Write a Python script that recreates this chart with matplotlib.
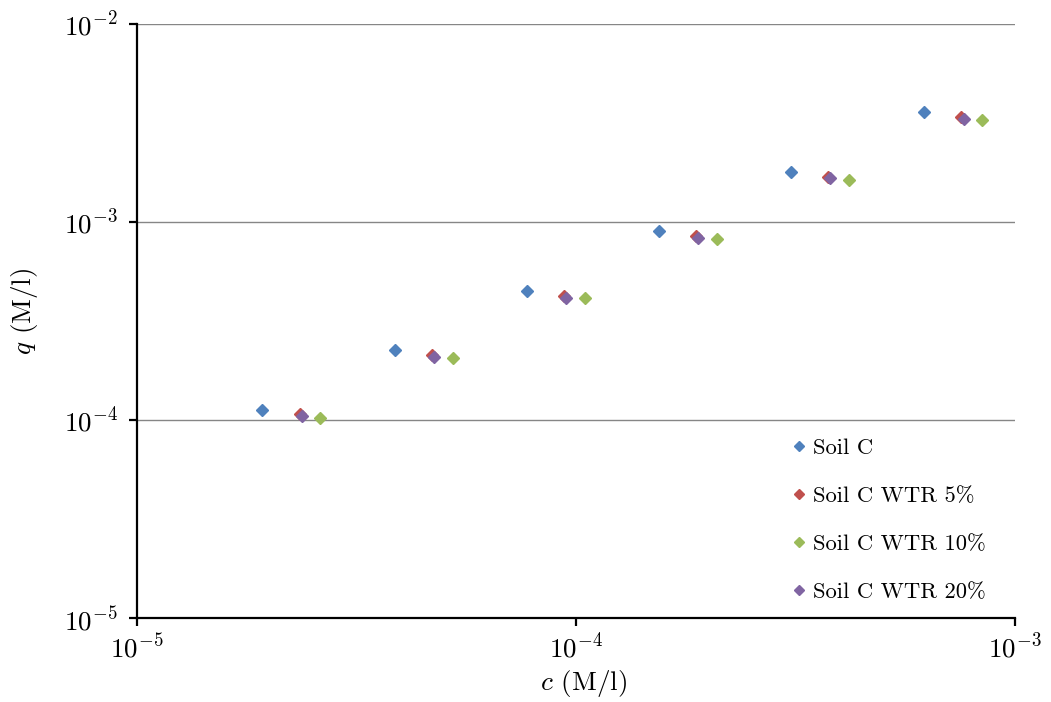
import numpy as np
import matplotlib
matplotlib.use('Agg')
import matplotlib.pyplot as plt

plt.rcParams['font.family'] = ['cmr10', 'DejaVu Serif']
plt.rcParams['mathtext.fontset'] = 'cm'
plt.rcParams['axes.formatter.use_mathtext'] = True

# concentration c (M/l) and sorbed q (M/l)
c_soil = [1.93e-5, 3.87e-5, 7.73e-5, 1.546e-4, 3.09e-4, 6.21e-4]
q_soil = [1.12e-4, 2.26e-4, 4.48e-4, 9.0e-4, 1.79e-3, 3.59e-3]

c_wtr5 = [2.35e-5, 4.70e-5, 9.39e-5, 1.877e-4, 3.75e-4, 7.53e-4]
q_wtr5 = [1.07e-4, 2.13e-4, 4.23e-4, 8.50e-4, 1.69e-3, 3.39e-3]

c_wtr10 = [2.61e-5, 5.25e-5, 1.048e-4, 2.095e-4, 4.19e-4, 8.41e-4]
q_wtr10 = [1.02e-4, 2.06e-4, 4.13e-4, 8.21e-4, 1.63e-3, 3.27e-3]

c_wtr20 = [2.38e-5, 4.75e-5, 9.49e-5, 1.896e-4, 3.79e-4, 7.65e-4]
q_wtr20 = [1.05e-4, 2.08e-4, 4.13e-4, 8.30e-4, 1.67e-3, 3.31e-3]

labels = ['Soil C', 'Soil C WTR 5%', 'Soil C WTR 10%', 'Soil C WTR 20%']
colors = ['#4F81BD', '#C0504D', '#9BBB59', '#8064A2']

fig = plt.figure(figsize=(10.51, 7.02), dpi=100)
ax = fig.add_axes([0.1304, 0.1197, 0.8353, 0.8461])

series = [(c_soil, q_soil), (c_wtr5, q_wtr5), (c_wtr10, q_wtr10), (c_wtr20, q_wtr20)]
for (c, q), lab, col in zip(series, labels, colors):
    ax.plot(c, q, linestyle='none', marker='D', ms=6.5, color=col, label=lab, zorder=3)

ax.set_xscale('log')
ax.set_yscale('log')
ax.set_xlim(1e-5, 1e-3)
ax.set_ylim(1e-5, 1e-2)
ax.minorticks_off()
ax.yaxis.grid(True, color='#868686', linewidth=1)
ax.set_axisbelow(True)

for s in ['top', 'right']:
    ax.spines[s].set_visible(False)
for s in ['left', 'bottom']:
    ax.spines[s].set_linewidth(1.6)
ax.tick_params(which='major', direction='out', length=6, width=1.6, labelsize=19.5)
ax.tick_params(axis='y', pad=8)
ax.tick_params(axis='x', pad=5)

ax.set_xlabel('$c$ (M/l)', fontsize=19.5)
ax.set_ylabel('$q$ (M/l)', fontsize=19.5)
ax.yaxis.set_label_coords(-0.111, 0.517)
ax.xaxis.set_label_coords(0.5085, -0.085)

ax.legend(loc='upper left', bbox_to_anchor=(0.734, 0.405), bbox_transform=fig.transFigure,
          frameon=False, fontsize=16.3, labelspacing=1.25, handlelength=0.6,
          handletextpad=0.35, markerscale=0.8)

fig.savefig('out.png', dpi=100)
